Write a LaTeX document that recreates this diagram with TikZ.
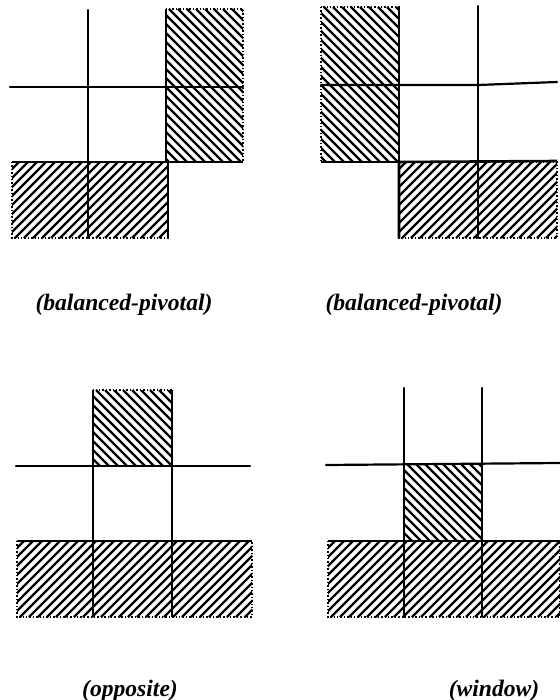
\documentclass[tikz,border=0pt]{standalone}
\usepackage{fontspec}
\setmainfont{Liberation Serif}
\usepackage{tikz}
\tikzstyle{gridline} = [line width=1.1pt, line cap=round]
\tikzstyle{edge} = [line width=1.3pt]
\tikzstyle{rim} = [densely dotted, line width=0.7pt]
\tikzstyle{hatchline} = [line width=1.1pt]
\tikzstyle{caption} = [font=\fontsize{11.8}{13}\selectfont\bfseries\itshape]

\newcommand{\hstep}{9}
% hatched box, lines rising to the right
\newcommand{\upbox}[4]{%
  \begin{scope}
    \clip (#1,#2) rectangle (#3,#4);
    \foreach \k in {0,...,55}
      \draw [hatchline] (#1-240+\k*\hstep,#4) -- ++(250,-250);
  \end{scope}
  \draw [rim] (#1,#2) rectangle (#3,#4);}
% hatched box, lines falling to the right
\newcommand{\downbox}[4]{%
  \begin{scope}
    \clip (#1,#2) rectangle (#3,#4);
    \foreach \k in {0,...,55}
      \draw [hatchline] (#1-240+\k*\hstep,#2) -- ++(250,250);
  \end{scope}
  \draw [rim] (#1,#2) rectangle (#3,#4);}

\begin{document}
\begin{tikzpicture}[x=0.5pt, y=-0.5pt]
    \useasboundingbox (0,0) rectangle (560,700);

    % Top left panel
    \downbox{166}{9}{243}{162}
    \upbox{12}{162}{168}{238}
    \draw [gridline] (10,87) -- (243,87);
    \draw [gridline] (88,10) -- (88,238);
    \draw [edge] (166,9) -- (166,162) -- (243,162);
    \draw [edge] (12,162) -- (168,162) -- (168,238);
    \node (balancedA) [caption] at (124,305) {(balanced-pivotal)};

    % Top right panel
    \downbox{321}{7}{399}{162}
    \upbox{399}{162}{557}{238}
    \draw [gridline] (321,85) -- (478,85) -- (557,82);
    \draw [gridline] (478,6) -- (478,238);
    \draw [edge] (399,7) -- (399,162) -- (321,162);
    \draw [edge] (399,238) -- (399,162) -- (557,161);
    \node (balancedB) [caption] at (414,305) {(balanced-pivotal)};

    % Bottom left panel
    \downbox{93}{390}{172}{466}
    \upbox{17}{541}{252}{617}
    \draw [gridline] (16,466) -- (250,466);
    \draw [edge] (93,390) -- (93,617);
    \draw [edge] (172,390) -- (172,617);
    \draw [edge] (17,541) -- (252,541);
    \node (opposite) [caption] at (130,691) {(opposite)};

    % Bottom right panel
    \downbox{404}{464}{482}{541}
    \upbox{328}{541}{560}{617}
    \draw [gridline] (326,465) -- (560,463);
    \draw [gridline] (404,388) -- (404,617);
    \draw [gridline] (482,388) -- (482,617);
    \draw [edge] (328,541) -- (560,541);
    \node (window) [caption] at (494,691) {(window)};
\end{tikzpicture}
\end{document}
